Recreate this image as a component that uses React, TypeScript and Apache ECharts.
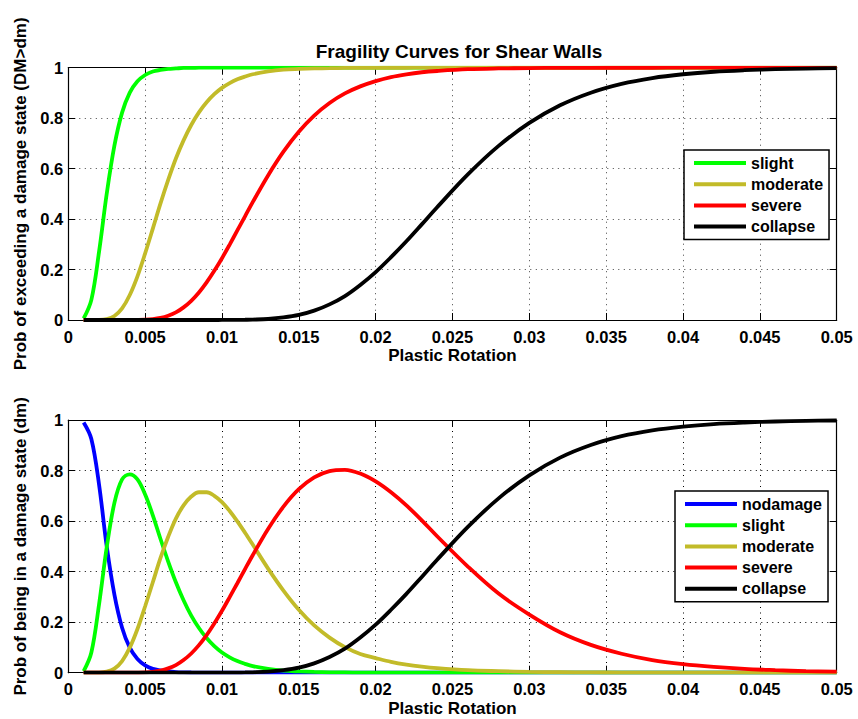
import React, { useEffect, useRef } from "react";
import * as echarts from "echarts";

// Plastic rotation sample points
const xs = [
  0.001, 0.0015, 0.002, 0.0025, 0.003, 0.0035, 0.004, 0.0045, 0.005, 0.0055, 0.006, 0.0065,
  0.007, 0.0075, 0.008, 0.0085, 0.009, 0.0095, 0.01, 0.0105, 0.011, 0.0115, 0.012,
  0.013, 0.014, 0.015, 0.016, 0.017, 0.018, 0.019, 0.02, 0.021, 0.022, 0.023, 0.024,
  0.026, 0.028, 0.03, 0.032, 0.034, 0.036, 0.038, 0.04, 0.042, 0.044, 0.046, 0.048, 0.05,
];

// Top: probability of exceeding a damage state
const exSlight = [
  0.006, 0.08, 0.27, 0.5, 0.691, 0.822, 0.901, 0.946, 0.971, 0.985, 0.991, 0.995,
  0.997, 0.999, 0.999, 1, 1, 1, 1, 1, 1, 1, 1,
  1, 1, 1, 1, 1, 1, 1, 1, 1, 1, 1, 1,
  1, 1, 1, 1, 1, 1, 1, 1, 1, 1, 1, 1, 1,
];
const exModerate = [
  0, 0, 0.0004, 0.004, 0.016, 0.046, 0.099, 0.173, 0.264, 0.362, 0.462, 0.555,
  0.64, 0.712, 0.773, 0.823, 0.863, 0.895, 0.92, 0.939, 0.954, 0.965, 0.974,
  0.985, 0.992, 0.995, 0.997, 0.998, 0.999, 0.9995, 0.9997, 0.9998, 0.9999, 1, 1,
  1, 1, 1, 1, 1, 1, 1, 1, 1, 1, 1, 1, 1,
];
const exSevere = [
  0, 0, 0, 0, 0, 0, 0.0001, 0.0004, 0.0013, 0.0037, 0.0084, 0.017,
  0.03, 0.05, 0.076, 0.109, 0.149, 0.195, 0.245, 0.299, 0.355, 0.411, 0.467,
  0.573, 0.667, 0.746, 0.81, 0.86, 0.898, 0.926, 0.947, 0.963, 0.974, 0.982, 0.987,
  0.994, 0.997, 0.9985, 0.9993, 0.9997, 0.9998, 0.9999, 1, 1, 1, 1, 1, 1,
];
const exCollapse = [
  0, 0, 0, 0, 0, 0, 0, 0, 0, 0, 0, 0,
  0, 0, 0, 0, 0, 0, 0.0001, 0.0002, 0.0005, 0.0009, 0.0015,
  0.004, 0.01, 0.02, 0.037, 0.062, 0.095, 0.139, 0.19, 0.249, 0.312, 0.379, 0.447,
  0.577, 0.69, 0.781, 0.851, 0.901, 0.936, 0.959, 0.974, 0.984, 0.99, 0.994, 0.9965, 0.998,
];

// Bottom: probability of being in a damage state
const inNodamage = [
  0.99, 0.925, 0.745, 0.5, 0.309, 0.178, 0.099, 0.054, 0.029, 0.015, 0.009, 0.005,
  0.0025, 0.0013, 0.0007, 0.0004, 0.0002, 0.0001, 0, 0, 0, 0, 0,
  0, 0, 0, 0, 0, 0, 0, 0, 0, 0, 0, 0,
  0, 0, 0, 0, 0, 0, 0, 0, 0, 0, 0, 0, 0,
];
const inSlight = [
  0.006, 0.08, 0.27, 0.496, 0.672, 0.765, 0.785, 0.765, 0.705, 0.623, 0.529, 0.44,
  0.358, 0.287, 0.226, 0.177, 0.137, 0.105, 0.08, 0.061, 0.046, 0.035, 0.026,
  0.015, 0.008, 0.005, 0.003, 0.0015, 0.0009, 0.0005, 0.0003, 0.0002, 0.0001, 0, 0,
  0, 0, 0, 0, 0, 0, 0, 0, 0, 0, 0, 0, 0,
];
const inModerate = [
  0, 0, 0.0004, 0.004, 0.016, 0.046, 0.099, 0.173, 0.263, 0.358, 0.454, 0.538,
  0.61, 0.662, 0.697, 0.714, 0.714, 0.7, 0.675, 0.64, 0.599, 0.554, 0.507,
  0.412, 0.325, 0.249, 0.187, 0.139, 0.101, 0.074, 0.058, 0.043, 0.032, 0.024, 0.018,
  0.01, 0.006, 0.003, 0.002, 0.001, 0.0005, 0, 0, 0, 0, 0, 0, 0,
];
const inSevere = [
  0, 0, 0, 0, 0, 0, 0.0001, 0.0004, 0.0013, 0.0037, 0.0084, 0.017,
  0.03, 0.05, 0.076, 0.109, 0.149, 0.195, 0.245, 0.299, 0.354, 0.41, 0.465,
  0.569, 0.657, 0.726, 0.773, 0.798, 0.803, 0.788, 0.757, 0.714, 0.662, 0.603, 0.54,
  0.42, 0.313, 0.23, 0.16, 0.11, 0.075, 0.05, 0.034, 0.023, 0.015, 0.01, 0.006, 0.004,
];
const inCollapse = exCollapse;

const xTicks = { min: 0, max: 0.05, interval: 0.005 };
const yTicks = { min: 0, max: 1, interval: 0.2 };

const COLORS = {
  nodamage: "#0000ff",
  slight: "#00ff00",
  moderate: "#c2bb29",
  severe: "#ff0000",
  collapse: "#000000",
};

const FONT = "Liberation Sans, Arial, Helvetica, sans-serif";

const fmt = (v: number) => String(Number(v.toFixed(4)));

export default function App() {
  const ref = useRef<HTMLDivElement>(null);

  useEffect(() => {
    if (!ref.current) return;
    const chart = echarts.init(ref.current, undefined, { renderer: "svg" });

    const grids = [
      { left: 68.3, right: 21.3, top: 67.7, height: 252.3 },
      { left: 68.3, right: 21.3, top: 420, height: 252.7 },
    ];

    const tickText = { color: "#000", fontSize: 16.5, fontWeight: "bold" as const, fontFamily: FONT };
    const nameText = { color: "#000", fontSize: 17, fontWeight: "bold" as const, fontFamily: FONT };
    const gridLine = (g: number) => ({
      show: true,
      lineStyle: { color: g === 0 ? "#444" : "#000", width: 1, type: [1, 4.5] as any },
    });

    const xAxes: any[] = [];
    const yAxes: any[] = [];
    [0, 1].forEach((g) => {
      xAxes.push({
        type: "value",
        gridIndex: g,
        position: "bottom",
        ...xTicks,
        name: "Plastic Rotation",
        nameLocation: "middle",
        nameGap: 27,
        nameTextStyle: nameText,
        axisLine: { show: true, onZero: false, lineStyle: { color: "#000", width: 1.2 } },
        axisTick: { show: true, inside: true, length: 7, lineStyle: { color: "#000" } },
        axisLabel: { ...tickText, margin: 8, formatter: fmt },
        splitLine: gridLine(g),
      });
      xAxes.push({
        type: "value",
        gridIndex: g,
        position: "top",
        ...xTicks,
        axisLine: { show: true, onZero: false, lineStyle: { color: "#000", width: 1.2 } },
        axisTick: { show: true, inside: true, length: 7, lineStyle: { color: "#000" } },
        axisLabel: { show: false },
        splitLine: { show: false },
      });
      yAxes.push({
        type: "value",
        gridIndex: g,
        position: "left",
        ...yTicks,
        name: g === 0 ? "Prob of exceeding a damage state (DM>dm)" : "Prob of being in a damage state (dm)",
        nameLocation: "middle",
        nameGap: 33,
        nameTextStyle: nameText,
        axisLine: { show: true, onZero: false, lineStyle: { color: "#000", width: 1.2 } },
        axisTick: { show: true, inside: true, length: 7, lineStyle: { color: "#000" } },
        axisLabel: { ...tickText, margin: 5, formatter: fmt },
        splitLine: gridLine(g),
      });
      yAxes.push({
        type: "value",
        gridIndex: g,
        position: "right",
        ...yTicks,
        axisLine: { show: true, onZero: false, lineStyle: { color: "#000", width: 1.2 } },
        axisTick: { show: true, inside: true, length: 7, lineStyle: { color: "#000" } },
        axisLabel: { show: false },
        splitLine: { show: false },
      });
    });

    const mk = (name: string, values: number[], g: number, color: string) => ({
      type: "line",
      name,
      xAxisIndex: g * 2,
      yAxisIndex: g * 2,
      data: xs.map((x, i) => [x, values[i]]),
      showSymbol: false,
      symbol: "none",
      smooth: 0.35,
      clip: true,
      lineStyle: { color, width: 3.8 },
      itemStyle: { color },
      z: 3,
    });

    const legendBase = {
      orient: "vertical",
      icon: "rect",
      itemWidth: 52,
      itemHeight: 4,
      itemGap: 5.2,
      padding: [5, 6, 5, 10],
      borderColor: "#000",
      borderWidth: 1.5,
      backgroundColor: "#fff",
      selectedMode: false,
      formatter: (n: string) => n.trim(),
      textStyle: { color: "#000", fontSize: 16, lineHeight: 16, fontWeight: "bold", fontFamily: FONT },
    };

    chart.setOption({
      animation: false,
      backgroundColor: "#fff",
      title: {
        text: "Fragility Curves for Shear Walls",
        left: 454,
        top: 37,
        textAlign: "center",
        textStyle: { color: "#000", fontSize: 19, fontWeight: "bold", fontFamily: FONT },
      },
      grid: grids,
      xAxis: xAxes,
      yAxis: yAxes,
      legend: [
        {
          ...legendBase,
          left: 684,
          top: 150,
          data: ["slight", "moderate", "severe", "collapse"].map((n) => ({ name: n })),
        },
        {
          ...legendBase,
          left: 675,
          top: 491,
          data: ["nodamage", "slight ", "moderate ", "severe ", "collapse "].map((n) => ({ name: n })),
        },
      ],
      series: [
        mk("slight", exSlight, 0, COLORS.slight),
        mk("moderate", exModerate, 0, COLORS.moderate),
        mk("severe", exSevere, 0, COLORS.severe),
        mk("collapse", exCollapse, 0, COLORS.collapse),
        mk("nodamage", inNodamage, 1, COLORS.nodamage),
        mk("slight ", inSlight, 1, COLORS.slight),
        mk("moderate ", inModerate, 1, COLORS.moderate),
        mk("severe ", inSevere, 1, COLORS.severe),
        mk("collapse ", inCollapse, 1, COLORS.collapse),
      ],
    });

    return () => chart.dispose();
  }, []);

  return (
    <div
      ref={ref}
      style={{ position: "fixed", left: 0, top: 0, width: 858, height: 719, background: "#fff" }}
    />
  );
}
